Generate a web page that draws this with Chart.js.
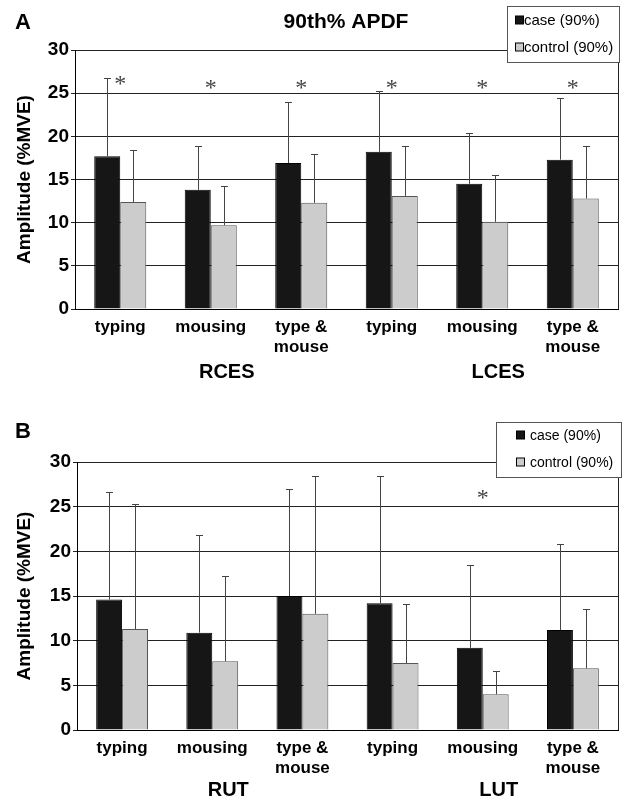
<!DOCTYPE html>
<html>
<head>
<meta charset="utf-8">
<script src="https://cdn.jsdelivr.net/npm/chart.js@4.4.0/dist/chart.umd.min.js"></script>
<style>
  body { margin: 0; background: #fff; }
  #wrap { position: relative; width: 624px; height: 801px; }
  canvas { position: absolute; left: 0; }
</style>
</head>
<body>
<div id="wrap">
  <canvas id="chartA" width="624" height="400" style="top:0"></canvas>
  <canvas id="chartB" width="624" height="401" style="top:400px"></canvas>
</div>
<script>
const categories = [['typing'], ['mousing'], ['type &', 'mouse'], ['typing'], ['mousing'], ['type &', 'mouse']];
const seriesNames = ['case (90%)', 'control (90%)'];
const yTicks = [0, 5, 10, 15, 20, 25, 30];

// panel A: 90th% APDF, RCES / LCES
const groupsA = ['RCES', 'LCES'];
const caseA = [17.7, 13.8, 16.9, 18.2, 14.5, 17.3];
const caseSdA = [9.0, 5.1, 7.1, 7.0, 5.9, 7.1];
const controlA = [12.4, 9.7, 12.3, 13.1, 10.1, 12.8];
const controlSdA = [6.0, 4.6, 5.7, 5.8, 5.4, 6.1];
const sigA = [26.9, 26.4, 26.4, 26.4, 26.4, 26.4];

// panel B: RUT / LUT
const groupsB = ['RUT', 'LUT'];
const caseB = [14.6, 10.9, 15.0, 14.2, 9.2, 11.2];
const caseSdB = [12.0, 10.9, 12.0, 14.2, 9.3, 9.6];
const controlB = [11.3, 7.7, 13.0, 7.5, 4.0, 6.9];
const controlSdB = [13.95, 9.5, 15.4, 6.55, 2.6, 6.6];
const sigB = [null, null, null, null, 26.7, null];

const FONT = "'Liberation Sans', Arial, sans-serif";
const colors = ['#161616', '#cccccc'];
const borders = ['#000', '#555'];

const extrasPlugin = {
  id: 'extras',
  afterDatasetsDraw(chart, args, o) {
    const ctx = chart.ctx;
    const y = chart.scales.y;
    ctx.save();
    ctx.strokeStyle = '#444';
    ctx.lineWidth = 1;
    o.sds.forEach((sd, d) => {
      const meta = chart.getDatasetMeta(d);
      const vals = chart.data.datasets[d].data;
      meta.data.forEach((bar, i) => {
        const x = Math.round(bar.x) + 0.5;
        const top = Math.round(y.getPixelForValue(vals[i] + sd[i])) + 0.5;
        ctx.beginPath();
        ctx.moveTo(x, bar.y);
        ctx.lineTo(x, top);
        ctx.moveTo(x - 3.5, top);
        ctx.lineTo(x + 3.5, top);
        ctx.stroke();
      });
    });
    // significance stars
    ctx.fillStyle = '#444';
    ctx.font = "24px 'Liberation Serif', serif";
    ctx.textAlign = 'center';
    ctx.textBaseline = 'alphabetic';
    const xs = chart.scales.x;
    o.sig.forEach((v, i) => {
      if (v == null) return;
      ctx.fillText('*', xs.getPixelForValue(i), y.getPixelForValue(v) + 14);
    });
    ctx.restore();
  },
  afterDraw(chart, args, o) {
    const ctx = chart.ctx;
    const a = chart.chartArea;
    const xs = chart.scales.x;
    ctx.save();
    // right border
    ctx.strokeStyle = '#222';
    ctx.beginPath();
    ctx.moveTo(Math.round(a.right) + 0.5, a.top);
    ctx.lineTo(Math.round(a.right) + 0.5, a.bottom);
    ctx.stroke();

    ctx.fillStyle = '#000';
    ctx.textBaseline = 'middle';
    ctx.textAlign = 'left';
    ctx.font = 'bold 22px ' + FONT;
    ctx.fillText(o.letter, 15, o.letterY);
    if (o.title) {
      ctx.textAlign = 'center';
      ctx.font = 'bold 21px ' + FONT;
      ctx.fillText(o.title, 346, 22);
    }
    // group labels
    ctx.textAlign = 'center';
    ctx.font = 'bold 20px ' + FONT;
    o.groups.forEach((g, k) => {
      const cx = xs.getPixelForValue(k * 3 + 1) + 16;
      ctx.fillText(g, cx, o.groupY);
    });

    // legend
    const L = o.legend;
    ctx.fillStyle = '#fff';
    ctx.fillRect(L.x, L.y, L.w, L.h);
    ctx.strokeStyle = '#555';
    ctx.strokeRect(L.x + 0.5, L.y + 0.5, L.w, L.h);
    ctx.font = L.fs + 'px ' + FONT;
    ctx.textAlign = 'left';
    chart.data.datasets.forEach((ds, d) => {
      const cy = L.rowY[d];
      ctx.fillStyle = colors[d];
      ctx.fillRect(L.sx + 0.5, cy - L.sw / 2, L.sw, L.sw);
      ctx.strokeStyle = '#000';
      ctx.strokeRect(L.sx + 0.5, cy - L.sw / 2, L.sw, L.sw);
      ctx.fillStyle = '#000';
      ctx.fillText(ds.label, L.tx, cy + 1);
    });
    ctx.restore();
  }
};

function makeChart(id, caseVals, caseSd, ctrlVals, ctrlSd, sig, groups, lay) {
  return new Chart(document.getElementById(id), {
    type: 'bar',
    data: {
      labels: categories,
      datasets: [
        { label: seriesNames[0], data: caseVals, backgroundColor: colors[0], borderColor: borders[0], borderWidth: 1 },
        { label: seriesNames[1], data: ctrlVals, backgroundColor: colors[1], borderColor: borders[1], borderWidth: 1 }
      ]
    },
    options: {
      responsive: false,
      animation: false,
      layout: { padding: { left: 0, right: 6, top: lay.top, bottom: 0 } },
      datasets: { bar: { categoryPercentage: 0.575, barPercentage: 1.0 } },
      scales: {
        x: {
          grid: { display: false, drawTicks: false },
          border: { display: true, color: '#000' },
          ticks: { color: '#000', font: { family: FONT, size: 17, weight: 'bold' }, padding: 8, maxRotation: 0, autoSkip: false },
          afterFit: s => { s.height = lay.xh; }
        },
        y: {
          min: 0, max: 30,
          afterBuildTicks: s => { s.ticks = yTicks.map(v => ({ value: v })); },
          grid: { color: '#222', tickLength: 4 },
          border: { color: '#000' },
          ticks: { color: '#000', font: { family: FONT, size: 19, weight: 'bold' }, padding: 2 },
          title: { display: true, text: 'Amplitude (%MVE)', color: '#000', font: { family: FONT, size: 19, weight: 'bold' }, padding: { top: 13, bottom: 0 } },
          afterFit: s => { s.width = lay.left; }
        }
      },
      plugins: {
        legend: { display: false },
        tooltip: { enabled: false },
        extras: {
          sds: [caseSd, ctrlSd], sig: sig, groups: groups,
          letter: lay.letter, letterY: lay.letterY, title: lay.title,
          groupY: lay.groupY, legend: lay.legend
        }
      }
    },
    plugins: [extrasPlugin]
  });
}

makeChart('chartA', caseA, caseSdA, controlA, controlSdA, sigA, groupsA, {
  top: 50, xh: 91, left: 75, letter: 'A', letterY: 23, title: '90th% APDF', groupY: 372,
  legend: { x: 507, y: 6, w: 112, h: 56, sx: 515, sw: 8, tx: 524, fs: 15, rowY: [20, 47] }
});
makeChart('chartB', caseB, caseSdB, controlB, controlSdB, sigB, groupsB, {
  top: 62, xh: 71, left: 77, letter: 'B', letterY: 32, title: null, groupY: 390,
  legend: { x: 496, y: 22, w: 125, h: 55, sx: 516, sw: 8, tx: 530, fs: 14, rowY: [35, 62] }
});
</script>
</body>
</html>
